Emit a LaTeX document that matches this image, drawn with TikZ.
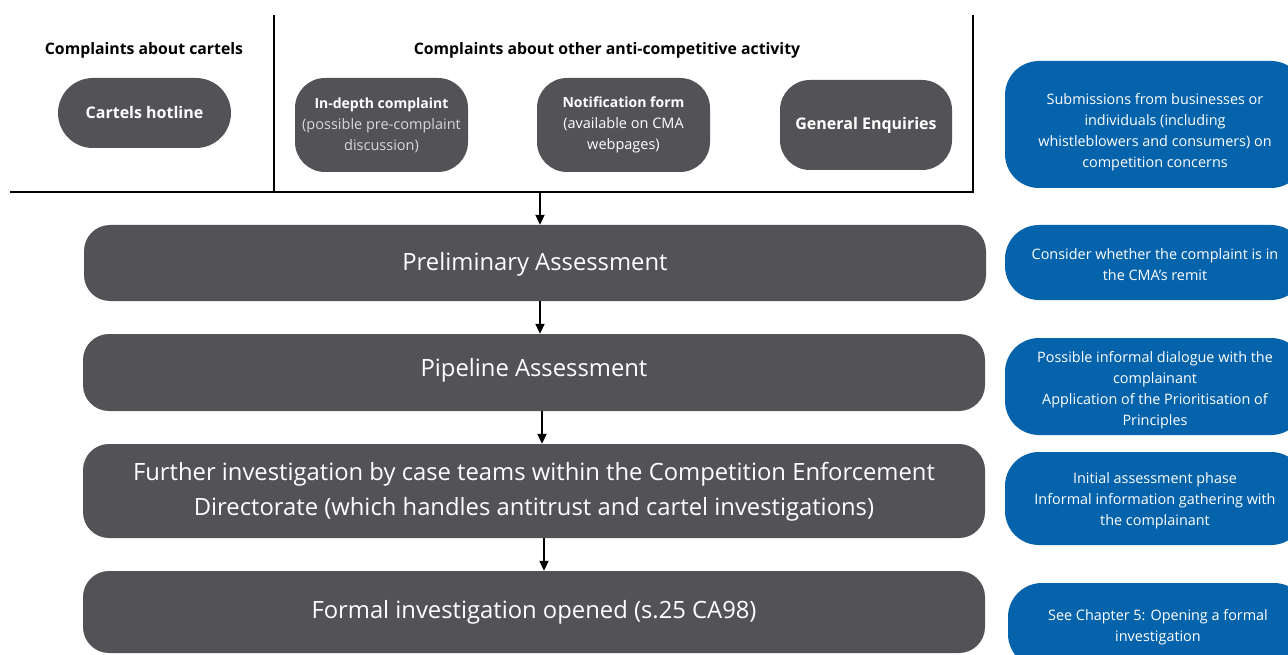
\documentclass[tikz,border=0pt]{standalone}
\usepackage{fontspec}
\setmainfont{Open Sans}
\usetikzlibrary{arrows.meta}
\definecolor{cgray}{HTML}{535257}
\definecolor{cblue}{HTML}{0563AC}
\definecolor{clight}{HTML}{D8D8DC}
\begin{document}
\begin{tikzpicture}[x=1pt,y=-1pt,
  frame/.style={line width=2.2pt,black},
  arr/.style={line width=2pt,-{Triangle[length=10pt,width=9pt]}},
  pill/.style={fill=cgray,text=white,inner sep=0pt,align=center},
  bigbox/.style={fill=cgray,rounded corners=26pt,minimum width=902pt,inner sep=0pt},
  bigtext/.style={text=white,align=center,inner sep=0pt,font=\fontsize{23.8}{35}\selectfont},
  bluebox/.style={fill=cblue,rounded corners=34pt,minimum width=300pt,inner sep=0pt},
  bluetext/.style={text=white,align=center,inner sep=0pt,font=\fontsize{14.4}{21}\selectfont},
  head/.style={font=\bfseries\fontsize{15.8}{18}\selectfont,inner sep=0pt}]
\useasboundingbox (0,0) rectangle (1288,655);
\clip (0,0) rectangle (1288,655);
% frame
\coordinate (fl) at (10,192);
\coordinate (fr) at (973,192);
\coordinate (ft) at (973,15);
\coordinate (mt) at (274,15);
\coordinate (mb) at (274,192);
\draw[frame] (fl) -- (fr) -- (ft);
\draw[frame] (mt) -- (mb);
% headings
\node[head] (h1) at (144,50) {Complaints about cartels};
\node[head] (h2) at (607,50) {Complaints about other anti-competitive activity};
% top pills
\node[pill,rounded corners=35pt,minimum width=173pt,minimum height=70pt,font=\bfseries\fontsize{16}{20}\selectfont] (hot) at (144.5,113) {Cartels hotline};
\node[pill,rounded corners=30pt,minimum width=173pt,minimum height=94pt,font=\fontsize{14.5}{21}\selectfont] (ind) at (381.5,125) {{\bfseries\fontsize{14}{21}\selectfont In-depth complaint}\\\textcolor{clight}{(possible pre-complaint}\\\textcolor{clight}{discussion)}};
\node[pill,rounded corners=30pt,minimum width=173pt,minimum height=94pt,font=\fontsize{14.5}{21}\selectfont] (not) at (623.5,125) {{\bfseries\fontsize{14}{21}\selectfont Notification form}\\(available on CMA\\webpages)};
\node[pill,rounded corners=30pt,minimum width=172pt,minimum height=90pt,font=\bfseries\fontsize{16}{20}\selectfont] (gen) at (866,125) {General Enquiries};
% main boxes
\node[bigbox,minimum height=76pt,label={[bigtext,yshift=-1pt]center:Preliminary Assessment}] (pre) at (535,263) {};
\node[bigbox,minimum height=77pt,label={[bigtext,yshift=2pt]center:Pipeline Assessment}] (pip) at (534,372.5) {};
\node[bigbox,minimum height=94pt,label={[bigtext,yshift=-1pt]center:{Further investigation by case teams within the Competition Enforcement\\Directorate (which handles antitrust and cartel investigations)}}] (fur) at (534,491) {};
\node[bigbox,minimum height=82pt,label={[bigtext]center:Formal investigation opened (s.25 CA98)}] (for) at (534,612) {};
% arrows
\coordinate (a1) at (540,192);
\draw[arr] (a1) -- (a1 |- pre.north);
\draw[arr] (pre.south -| 540,0) -- (pip.north -| 540,0);
\draw[arr] (pip.south -| 542,0) -- (fur.north -| 542,0);
\draw[arr] (fur.south -| 544,0) -- (for.north -| 544,0);
% blue boxes
\node[bluebox,minimum height=127pt,label={[bluetext,yshift=-8pt]center:{Submissions from businesses or\\individuals (including\\whistleblowers and consumers) on\\competition concerns}}] (b1) at (1155,124.5) {};
\node[bluebox,minimum height=75pt,label={[bluetext,yshift=-2pt]center:{Consider whether the complaint is in\\the CMA’s remit}}] (b2) at (1155,262.5) {};
\node[bluebox,minimum height=97pt,label={[bluetext,yshift=-4pt]center:{Possible informal dialogue with the\\complainant\\Application of the Prioritisation of\\Principles}}] (b3) at (1155,386.5) {};
\node[bluebox,minimum height=93pt,label={[bluetext,yshift=-2pt]center:{Initial assessment phase\\Informal information gathering with\\the complainant}}] (b4) at (1155,498.5) {};
\node[bluebox,minimum height=85pt,label={[bluetext,yshift=-2pt]center:{See Chapter 5: Opening a formal\\investigation}}] (b5) at (1158,625.5) {};
\end{tikzpicture}
\end{document}
